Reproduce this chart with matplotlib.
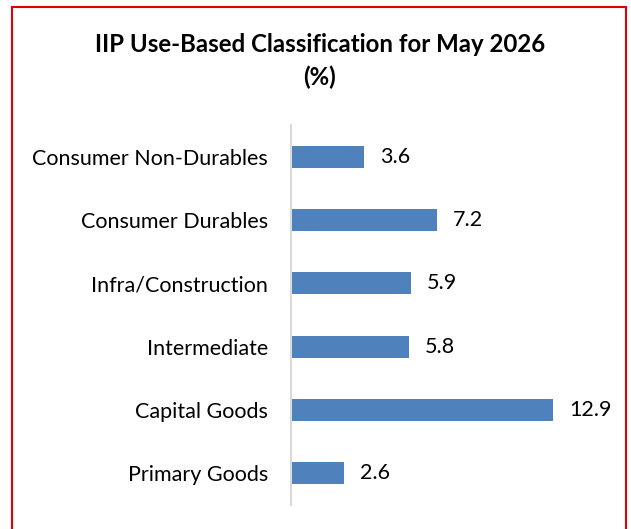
import matplotlib.pyplot as plt
from matplotlib.patches import Rectangle

categories = ['Primary Goods', 'Capital Goods', 'Intermediate',
              'Infra/Construction', 'Consumer Durables', 'Consumer Non-Durables']
values = [2.6, 12.9, 5.8, 5.9, 7.2, 3.6]

plt.rcParams['font.family'] = ['Lato', 'DejaVu Sans']

W, H = 631, 529
fig = plt.figure(figsize=(W / 100, H / 100), dpi=100)
ax = fig.add_axes([291 / W, 1 - 505 / H, (575 - 291) / W, (505 - 125) / H])

pos = range(len(categories))
ax.barh(pos, values, height=0.35, color='#4F81BD')
for p, v in zip(pos, values):
    ax.text(v + 0.8, p, f'{v:.1f}', va='center', ha='left', fontsize=15.5, color='#000000')

ax.set_yticks(list(pos))
ax.set_yticklabels(categories, fontsize=15.5)
ax.tick_params(axis='y', length=0, pad=16.5)
ax.set_xticks([])
ax.set_xlim(0, 14)
ax.set_ylim(-0.5, 5.5)
for s in ['top', 'right', 'bottom']:
    ax.spines[s].set_visible(False)
ax.spines['left'].set_color('#D9D9D9')
ax.spines['left'].set_linewidth(1.5)

fig.text(320 / W, 1 - 45 / H, 'IIP Use-Based Classification for May 2026',
         ha='center', va='center', fontsize=17.3, fontweight='bold')
fig.text(320 / W, 1 - 77 / H, '(%)', ha='center', va='center', fontsize=17.3, fontweight='bold')

fig.patches.append(Rectangle((11.5 / W, -0.02), (626 - 11.5) / W, 1.02 - 6.5 / H,
                             transform=fig.transFigure, fill=False,
                             edgecolor='#E00000', linewidth=1.5))

fig.savefig('out.png', dpi=100)
